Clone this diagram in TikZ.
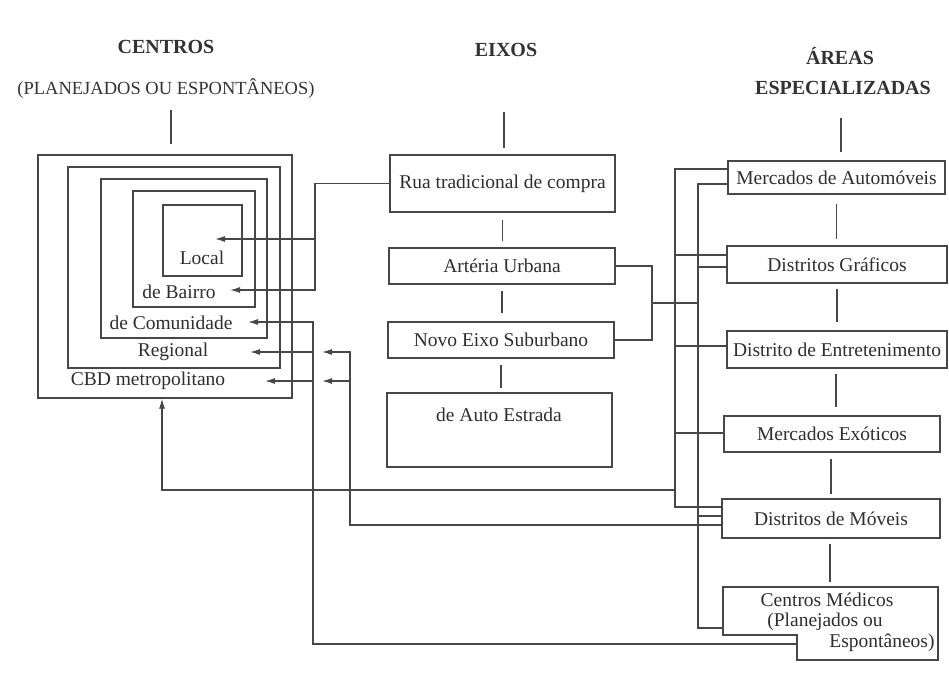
\documentclass[tikz,border=0pt]{standalone}
\usepackage{fontspec}
\setmainfont{Liberation Serif}
\usetikzlibrary{arrows.meta,calc}
\begin{document}
\begin{tikzpicture}[x=1pt,y=-1pt,
  ln/.style={draw=black!72, line width=1.25pt},
  arr/.style={ln, -{Latex[length=10pt,width=6pt]}},
  bx/.style={draw=black!72, line width=1.25pt, rectangle, inner sep=0pt,
    font=\fontsize{19.5}{22}\selectfont, text=black!82},
  lbl/.style={inner sep=0pt, font=\fontsize{19.5}{22}\selectfont, text=black!82},
  hd/.style={inner sep=0pt, font=\fontsize{20}{24}\selectfont\bfseries, text=black!80},
  sbh/.style={inner sep=0pt, font=\fontsize{18.5}{22}\selectfont, text=black!80}]
\fill[white] (0,0) rectangle (949,672);
\useasboundingbox (0,0) rectangle (949,672);

% headings
\node[hd] (hCen) at (166,47) {CENTROS};
\node[sbh] (hCen2) at (166,89) {(PLANEJADOS OU ESPONTÂNEOS)};
\node[hd] (hEix) at (506,50) {EIXOS};
\node[hd] (hAre) at (840,56) {ÁREAS};
\node[hd] (hEsp) at (843,88) {ESPECIALIZADAS};

% centros: nested boxes
\node[bx, minimum width=254pt, minimum height=243pt] (cbdbox) at (165,276.5) {};
\node[bx, minimum width=212pt, minimum height=201pt] (regbox) at (174,267.5) {};
\node[bx, minimum width=166pt, minimum height=159pt] (combox) at (184,258.5) {};
\node[bx, minimum width=122pt, minimum height=116pt] (baibox) at (194,249) {};
\node[bx, minimum width=79pt, minimum height=71pt] (locbox) at (202.5,240.5) {};
\node[lbl] (lLoc) at (202,258) {Local};
\node[lbl] (lBai) at (179,292) {de Bairro};
\node[lbl] (lCom) at (171,323) {de Comunidade};
\node[lbl] (lReg) at (173,352) {Regional};
\node[lbl] (lCbd) at (148,381) {CBD metropolitano};

% eixos
\node[bx, minimum width=225pt, minimum height=57pt] (rua) at (502.5,183.5) {Rua tradicional de compra};
\node[bx, minimum width=226pt, minimum height=36pt] (art) at (502,266) {Artéria Urbana};
\node[bx, minimum width=226pt, minimum height=36pt] (novo) at (501,340) {Novo Eixo Suburbano};
\node[bx, minimum width=225pt, minimum height=74pt] (auto) at (499.5,430) {};
\node[lbl] (autoT) at (499,415) {de Auto Estrada};

% areas especializadas
\node[bx, minimum width=217pt, minimum height=33pt] (mauto) at (836.5,177.5) {Mercados de Automóveis};
\node[bx, minimum width=220pt, minimum height=37pt] (graf) at (837,264.5) {Distritos Gráficos};
\node[bx, minimum width=220pt, minimum height=37pt] (entr) at (837,349.5) {Distrito de Entretenimento};
\node[bx, minimum width=216pt, minimum height=36pt] (exot) at (832,434) {Mercados Exóticos};
\node[bx, minimum width=218pt, minimum height=39pt] (move) at (831,518.5) {Distritos de Móveis};
\coordinate (m1) at (723,587);
\coordinate (m2) at (938,587);
\coordinate (m3) at (938,660);
\coordinate (m4) at (797,660);
\coordinate (m5) at (797,635);
\coordinate (m6) at (723,635);
\draw[ln] (m1) -- (m2) -- (m3) -- (m4) -- (m5) -- (m6) -- cycle;
\node[lbl] (med1) at (827,600) {Centros Médicos};
\node[lbl] (med2) at (825,622) {(Planejados ou};
\node[lbl] (med3) at (882,643) {Espontâneos)};

% heading ticks
\draw[ln, shorten <=10.5pt, shorten >=10pt] (hCen2.south -| 171,0) -- (cbdbox.north -| 171,0);
\draw[ln, shorten <=55pt, shorten >=6pt] (hEix.south -| 504,0) -- (rua.north -| 504,0);
\draw[ln, shorten <=23pt, shorten >=8pt] (hEsp.south -| 841,0) -- (mauto.north -| 841,0);

% eixos chain
\draw[ln, shorten <=7pt, shorten >=6pt] (rua.south) -- (rua.south |- art.north);
\draw[ln, shorten <=6pt, shorten >=8pt] (art.south) -- (art.south |- novo.north);
\draw[ln, shorten <=6pt, shorten >=4pt] (novo.south) -- (novo.south |- auto.north);

% areas chain
\draw[ln, shorten <=9pt, shorten >=6pt] (mauto.south) -- (mauto.south |- graf.north);
\draw[ln, shorten <=5pt, shorten >=8pt] (graf.south) -- (graf.south |- entr.north);
\draw[ln, shorten <=5pt, shorten >=8pt] ([xshift=-1pt]entr.south) -- ([xshift=-1pt]entr.south |- exot.north);
\draw[ln, shorten <=6pt, shorten >=4pt] ([xshift=-1pt]exot.south) -- ([xshift=-1pt]exot.south |- move.north);
\draw[ln, shorten <=5pt, shorten >=5pt] ([xshift=-1pt]move.south) -- ([xshift=-1pt]move.south |- m1);

% coordinates for connectors
\coordinate (jRua) at (315,290);
\coordinate (jLoc) at (315,239);
\coordinate (tLoc) at (215,239);
\coordinate (tBai) at (230,290);
\coordinate (mIn) at (797,644);
\coordinate (jCom) at (313,322);
\coordinate (tCom) at (248,322);
\coordinate (jReg) at (313,352);
\coordinate (tReg) at (250,352);
\coordinate (jCbd) at (313,381);
\coordinate (tCbd) at (265,381);
\coordinate (kReg) at (350,352);
\coordinate (tReg2) at (322,352);
\coordinate (kCbd) at (350,381);
\coordinate (tCbd2) at (322,381);
\coordinate (aTop) at (675,169);
\coordinate (aBot) at (675,507);
\coordinate (aGraf) at (675,255);
\coordinate (aEntr) at (675,346);
\coordinate (aExot) at (675,433);
\coordinate (aCbd) at (675,490);
\coordinate (bTop) at (698,184);
\coordinate (bBot) at (698,628);
\coordinate (bGraf) at (698,267);
\coordinate (bMove) at (698,516);
\coordinate (bMid) at (698,303);
\coordinate (cBrk) at (652,340);
\coordinate (cMid) at (652,303);

% rua -> local / bairro
\draw[arr] (rua.west) -| (jRua) -- (tBai);
\draw[arr] (jLoc) -- (tLoc);

% centros medicos -> comunidade / regional / cbd
\draw[arr] (mIn) -| (jCom) -- (tCom);
\draw[arr] (jReg) -- (tReg);
\draw[arr] (jCbd) -- (tCbd);

% moveis -> regional / cbd
\draw[arr] ([yshift=-6.5pt]move.west) -| (kReg) -- (tReg2);
\draw[arr] (kCbd) -- (tCbd2);

% bus A
\draw[ln] (mauto.west |- aTop) -- (aTop) -- (aBot) -- (move.west |- aBot);
\draw[ln] (aGraf) -- (graf.west |- aGraf);
\draw[ln] (aEntr) -- (entr.west |- aEntr);
\draw[ln] (aExot) -- (exot.west |- aExot);
\draw[arr] (aCbd) -| ([xshift=-3pt]cbdbox.south);

% bus B
\draw[ln] (mauto.west |- bTop) -- (bTop) -- (bBot) -- (m6 |- bBot);
\draw[ln] (bGraf) -- (graf.west |- bGraf);
\draw[ln] (bMove) -- (move.west |- bMove);
\draw[ln] (art.east) -| (cBrk) -- (novo.east);
\draw[ln] (cMid) -- (bMid);
\end{tikzpicture}
\end{document}
